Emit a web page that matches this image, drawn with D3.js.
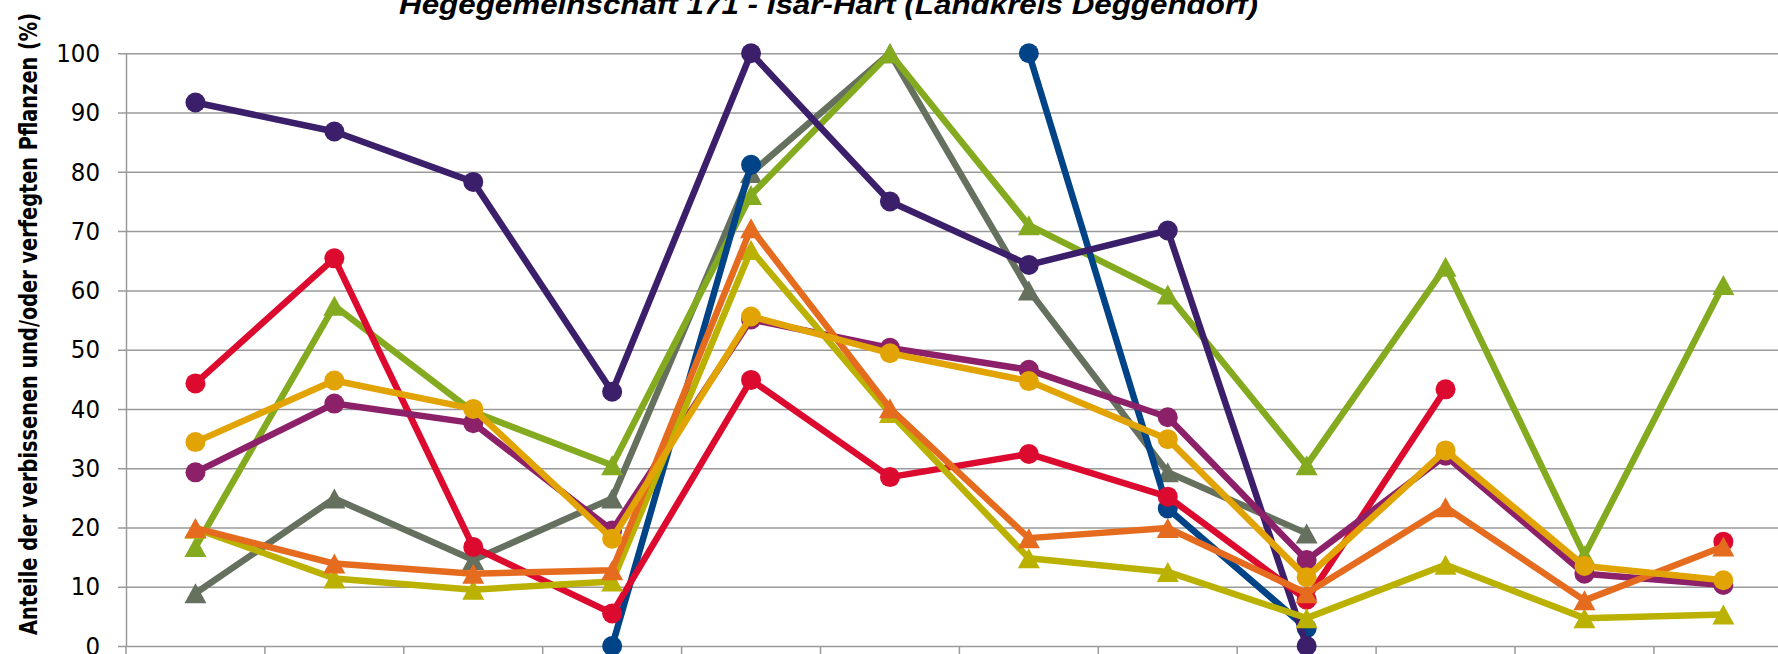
<!DOCTYPE html>
<html lang="de">
<head>
  <meta charset="UTF-8">
  <title>Hegegemeinschaft 171 - Isar-Hart</title>
  <script src="https://d3js.org/d3.v7.min.js"></script>
  <style>
    body { margin: 0; background: #fff; }
    svg { display: block; }
    .tick text { font-family: "DejaVu Sans Condensed", "Liberation Sans Narrow", sans-serif; font-size: 25.5px; fill: #000; }
    .title { font-family: "Liberation Sans", sans-serif; font-weight: bold; font-style: italic; font-size: 28px; }
    .ylabel { font-family: "Liberation Sans Narrow", "DejaVu Sans Condensed", sans-serif; font-weight: bold; font-size: 25px; }
  </style>
</head>
<body>
  <svg width="1778" height="654"></svg>

  <script>
    // 12 Kategorien (Beschriftungen liegen unterhalb des Bildausschnitts)
    const categories = ["1", "2", "3", "4", "5", "6", "7", "8", "9", "10", "11", "12"];
    const yTicks = [0, 10, 20, 30, 40, 50, 60, 70, 80, 90, 100];

    const grey    = [8.9, 24.9, 14.5, 24.9, 79.8, 100, 60, 29.3, 19, null, null, null];
    const green   = [16.7, 57.4, 39.5, 30.5, 76.1, 100, 71, 59.3, 30.5, 64, 15.3, 60.9];
    const blue    = [null, null, null, 0, 81.2, null, 100, 23.2, 3, null, null, null];
    const purple  = [91.7, 86.8, 78.3, 42.9, 100, 75, 64.3, 70.1, 0, null, null, null];
    const red     = [44.3, 65.4, 16.7, 5.5, 44.9, 28.5, 32.4, 25.2, 7.8, 43.3, null, 17.6];
    const magenta = [29.3, 40.9, 37.6, 19.5, 55.1, 50.3, 46.6, 38.6, 14.5, 32.1, 12.2, 10.3];
    const olive   = [19.8, 11.4, 9.5, 10.9, 66.8, 39.3, 14.8, 12.5, 4.7, 13.7, 4.7, 5.3];
    const orange  = [19.9, 13.9, 12.2, 12.8, 70.5, 40.1, 18.2, 19.9, 8.9, 23.4, 7.7, 16.8];
    const gold    = [34.4, 44.8, 40, 18.1, 55.6, 49.4, 44.7, 34.9, 11.6, 33, 13.5, 11.1];

    const series = [
      { values: grey,    color: "#65705e", marker: "triangle" },
      { values: green,   color: "#84aa20", marker: "triangle" },
      { values: blue,    color: "#004387", marker: "circle" },
      { values: purple,  color: "#3c1f6b", marker: "circle" },
      { values: red,     color: "#dc0a2f", marker: "circle" },
      { values: magenta, color: "#8c2169", marker: "circle" },
      { values: olive,   color: "#bab100", marker: "triangle" },
      { values: orange,  color: "#e56b1f", marker: "triangle" },
      { values: gold,    color: "#e2a405", marker: "circle" }
    ];

    const svg = d3.select("svg");
    const W = 1778, H = 654;
    const x0 = 126, step = 138.9;

    const x = d3.scaleBand()
      .domain(categories)
      .range([x0, x0 + step * categories.length]);

    const y = d3.scaleLinear()
      .domain([0, 100])
      .range([646, 53.3]);

    // Gitterlinien + Beschriftung
    const yAxis = svg.append("g")
      .attr("transform", `translate(${x0},0)`)
      .call(d3.axisLeft(y).tickValues(yTicks)
        .tickSizeInner(-(W - x0)).tickSizeOuter(0).tickPadding(26));
    yAxis.selectAll(".tick line")
      .attr("x1", -8)
      .attr("stroke", "#9a9a9a")
      .attr("stroke-width", 1.5);
    yAxis.select(".domain").attr("stroke", "#9a9a9a").attr("stroke-width", 1.5);

    // Kategoriegrenzen auf der x-Achse
    const bounds = categories.map(c => x(c)).concat([x.range()[1]]);
    svg.append("g").selectAll("line")
      .data(bounds)
      .enter().append("line")
        .attr("x1", d => d).attr("x2", d => d)
        .attr("y1", y(0)).attr("y2", H)
        .attr("stroke", "#9a9a9a")
        .attr("stroke-width", 1.5);

    const cx = i => x(categories[i]) + x.bandwidth() / 2;

    const line = d3.line()
      .defined(d => d != null)
      .x((d, i) => cx(i))
      .y(d => y(d));

    const tri = "M0,-10L11,10L-11,10Z";

    series.forEach(s => {
      const g = svg.append("g");
      g.append("path")
        .datum(s.values)
        .attr("fill", "none")
        .attr("stroke", s.color)
        .attr("stroke-width", 6.5)
        .attr("stroke-linejoin", "round")
        .attr("d", line);

      const pts = s.values.map((v, i) => ({ v, i })).filter(p => p.v != null);
      if (s.marker === "circle") {
        g.selectAll("circle")
          .data(pts)
          .enter().append("circle")
            .attr("cx", p => cx(p.i))
            .attr("cy", p => y(p.v))
            .attr("r", 10)
            .attr("fill", s.color);
      } else {
        g.selectAll("path.m")
          .data(pts)
          .enter().append("path")
            .attr("class", "m")
            .attr("transform", p => `translate(${cx(p.i)},${y(p.v)})`)
            .attr("d", tri)
            .attr("fill", s.color);
      }
    });

    svg.append("text")
      .attr("class", "title")
      .attr("x", 399)
      .attr("y", 14)
      .attr("textLength", 859)
      .attr("lengthAdjust", "spacingAndGlyphs")
      .text("Hegegemeinschaft 171 - Isar-Hart (Landkreis Deggendorf)");

    svg.append("text")
      .attr("class", "ylabel")
      .attr("transform", "translate(37,324) rotate(-90)")
      .attr("text-anchor", "middle")
      .attr("textLength", 622)
      .attr("lengthAdjust", "spacingAndGlyphs")
      .text("Anteile der verbissenen und/oder verfegten Pflanzen (%)");
  </script>
</body>
</html>
